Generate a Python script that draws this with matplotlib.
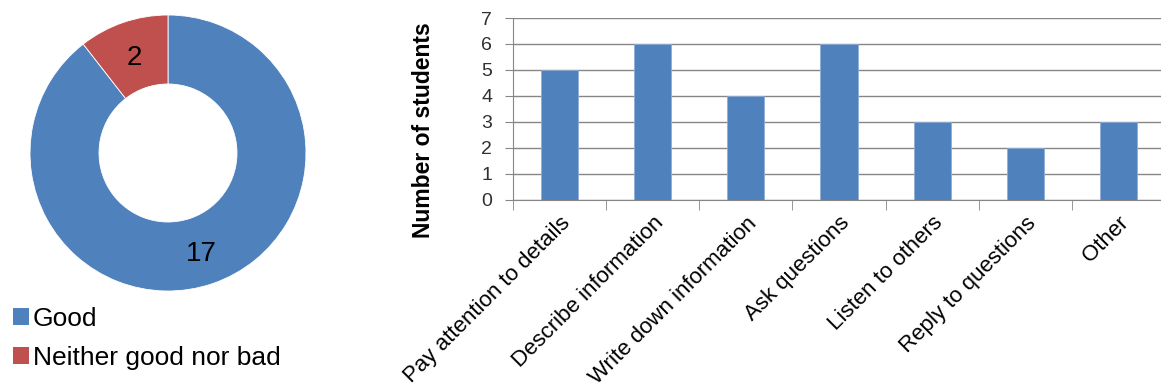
import numpy as np
import matplotlib
matplotlib.use('Agg')
import matplotlib.pyplot as plt
from matplotlib.patches import Patch
from matplotlib.transforms import ScaledTranslation

plt.rcParams['font.family'] = ['Liberation Sans', 'DejaVu Sans']

# donut data
ratings = ['Good', 'Neither good nor bad']
counts = [17, 2]
donut_colors = ['#4F81BD', '#C0504D']

# bar data
skills = ['Pay attention to details', 'Describe information', 'Write down information',
          'Ask questions', 'Listen to others', 'Reply to questions', 'Other']
students = [5, 6, 4, 6, 3, 2, 3]

W, H = 1161, 387
fig = plt.figure(figsize=(W / 100, H / 100), dpi=100)

# donut: centre (168,153) px, radius 138 px
cx, cy, r = 168, 153, 138
ax1 = fig.add_axes([(cx - r) / W, (H - cy - r) / H, 2 * r / W, 2 * r / H])
wedges, _ = ax1.pie(counts, colors=donut_colors, startangle=90, counterclock=False,
                    radius=1, wedgeprops=dict(width=0.5, edgecolor='white', linewidth=0.6))
for w, c in zip(wedges, counts):
    ang = np.deg2rad((w.theta1 + w.theta2) / 2)
    ax1.text(0.75 * np.cos(ang), 0.75 * np.sin(ang) - 0.02, str(c), ha='center', va='center',
             fontsize=20, color='black')
ax1.set_xlim(-1, 1)
ax1.set_ylim(-1, 1)

handles = [Patch(facecolor=c) for c in donut_colors]
fig.legend(handles, ratings, loc='upper left', bbox_to_anchor=(13 / W, (H - 307) / H),
           frameon=False, fontsize=19, handlelength=0.6, handleheight=0.6,
           handletextpad=0.15, borderpad=0, borderaxespad=0, labelspacing=0.55)

# bar chart
left, right, top, bottom = 513, 1165, 18, 199.5
ax2 = fig.add_axes([left / W, (H - bottom) / H, (right - left) / W, (bottom - top) / H])
x = np.arange(len(skills))
ax2.bar(x, students, width=0.4, color='#4F81BD', edgecolor='#8EACD6', linewidth=0.6, zorder=3)
ax2.set_xlim(-0.5, len(skills) - 0.5)
ax2.set_ylim(0, 7)
ax2.set_yticks(range(0, 8))
ax2.grid(axis='y', color='#868686', linewidth=1.0, zorder=0)
ax2.set_xticks(x)
ax2.set_xticklabels(skills, rotation=45, ha='right', va='top', rotation_mode='anchor', fontsize=16)
shift = ScaledTranslation(-10 / 100, 0, fig.dpi_scale_trans)
for lbl in ax2.get_xticklabels():
    lbl.set_transform(lbl.get_transform() + shift)
ax2.set_xticks(np.arange(-0.5, len(skills), 1), minor=True)
ax2.tick_params(axis='x', which='major', length=0, pad=9.5)
ax2.tick_params(axis='x', which='minor', length=7, color='#868686', direction='out')
ax2.tick_params(axis='y', length=6, color='#868686', labelsize=14, pad=9, labelcolor='#303030')
for s in ['top', 'right']:
    ax2.spines[s].set_visible(False)
for s in ['left', 'bottom']:
    ax2.spines[s].set_color('#868686')
ax2.set_ylabel('Number of students', fontsize=16.5, fontweight='bold')
ax2.yaxis.set_label_coords(-0.12, 0.383)

fig.savefig('out.png', dpi=100)
